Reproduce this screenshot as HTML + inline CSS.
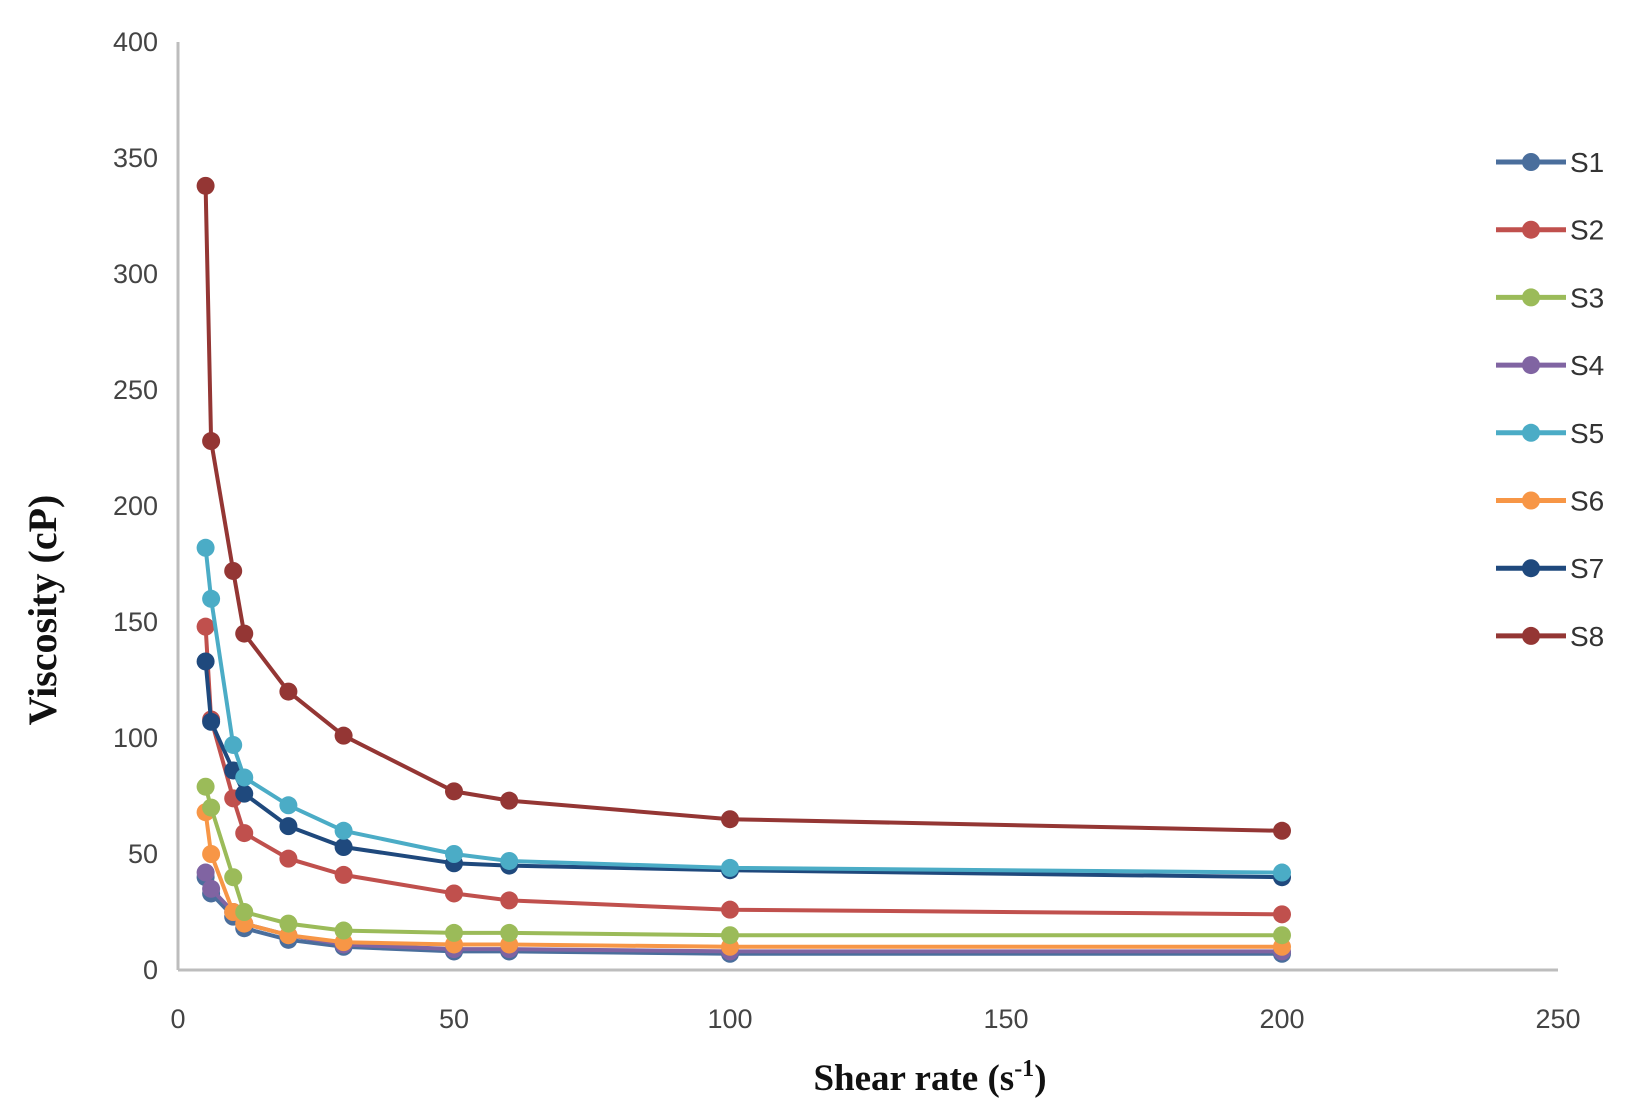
<!DOCTYPE html>
<html><head><meta charset="utf-8"><style>body{margin:0;background:#fff}svg{display:block}</style></head>
<body>
<svg id="s" width="1640" height="1116" viewBox="0 0 1640 1116" xmlns="http://www.w3.org/2000/svg" font-family="Liberation Sans, sans-serif">
<rect width="1640" height="1116" fill="#fff"/>
<line x1="178" y1="42" x2="178" y2="970" stroke="#bdbdbd" stroke-width="3"/>
<line x1="178" y1="970" x2="1558" y2="970" stroke="#bdbdbd" stroke-width="3"/>
<g id="g"></g>
<text x="930" y="1090" text-anchor="middle" font-family="Liberation Serif, serif" font-weight="bold" font-size="37" fill="#111">Shear rate (s<tspan dy="-14" font-size="24">-1</tspan><tspan dy="14">)</tspan></text>
<text transform="translate(56,610) rotate(-90)" text-anchor="middle" font-family="Liberation Serif, serif" font-weight="bold" font-size="40" fill="#111">Viscosity (cP)</text>
</svg>
<script>
var g=document.getElementById('g'),h='';
function X(v){return 178+v*(1558-178)/250}
function Y(v){return 970-v*(970-42)/400}
for(var i=0;i<=8;i++){h+='<text x="158" y="'+(Y(i*50)+9)+'" text-anchor="end" font-size="27" fill="#444">'+(i*50)+'</text>';}
for(var i=0;i<=5;i++){h+='<text x="'+X(i*50)+'" y="1028" text-anchor="middle" font-size="27" fill="#444">'+(i*50)+'</text>';}
var xs=[5,6,10,12,20,30,50,60,100,200];
var S=[
['S1','#4a6e9c',[40,33,23,18,13,10,8,8,7,7],'d'],
['S2','#c0504d',[148,108,74,59,48,41,33,30,26,24]],
['S3','#9bbb59',[79,70,40,25,20,17,16,16,15,15]],
['S4','#8064a2',[42,35,25,20,15,11,9,9,8,8]],
['S5','#4bacc6',[182,160,97,83,71,60,50,47,44,42]],
['S6','#f79646',[68,50,25,20,15,12,11,11,10,10]],
['S7','#1f497d',[133,107,86,76,62,53,46,45,43,40]],
['S8','#943634',[338,228,172,145,120,101,77,73,65,60]]];
var draw=[0,3,5,2,1,6,4,7];
draw.forEach(function(k){var s=S[k];var p=s[2].map(function(v,j){return X(xs[j]).toFixed(1)+','+Y(v).toFixed(1)}).join(' ');
h+='<polyline points="'+p+'" fill="none" stroke="'+s[1]+'" stroke-width="4"/>';
s[2].forEach(function(v,j){h+='<circle cx="'+X(xs[j])+'" cy="'+Y(v)+'" r="9" fill="'+s[1]+'"/>';});});
S.forEach(function(s,k){var y=162+k*67.7;
h+='<line x1="1496" y1="'+y+'" x2="1566" y2="'+y+'" stroke="'+s[1]+'" stroke-width="5"/><circle cx="1531" cy="'+y+'" r="9" fill="'+s[1]+'"/>';
h+='<text x="1570" y="'+(y+10)+'" font-size="28" fill="#333">'+s[0]+'</text>';});
g.innerHTML=h;
</script>
</body></html>
